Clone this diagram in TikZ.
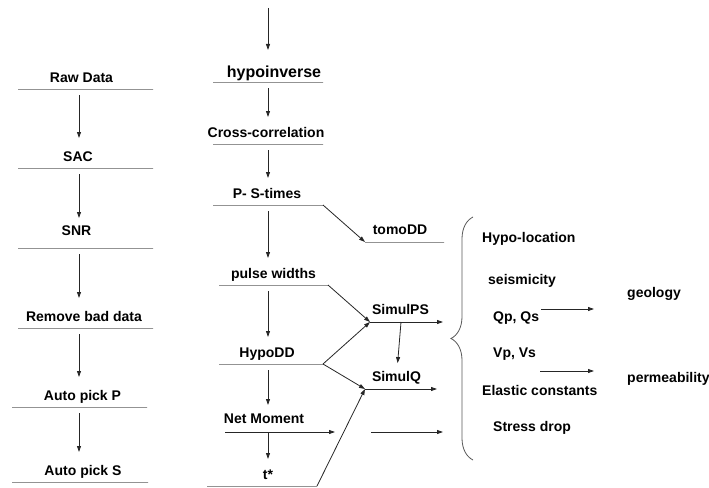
\documentclass[tikz,border=0pt]{standalone}
\usepackage{fontspec}
\setmainfont{Liberation Sans}
\usetikzlibrary{arrows.meta,decorations.pathreplacing}
\definecolor{linegray}{gray}{0.35}
\tikzset{
  bar/.style={draw=linegray, line width=0.8pt, minimum width=#1,
    minimum height=0pt, inner sep=0pt, outer sep=0pt},
  tag/.style={font=\fontsize{14}{16}\selectfont\bfseries, inner sep=0pt, text depth=0pt},
  arr/.style={draw=black!85, line width=0.8pt, -{Triangle[length=6pt,width=4pt]}},
  flow/.style={arr, shorten <=6pt, shorten >=#1},
  flow/.default=27pt,
  every label/.style={tag}
}
\begin{document}
\begin{tikzpicture}[x=1pt, y=-1pt, label distance=6pt]
\useasboundingbox (0,0) rectangle (709,487);
\coordinate (lx) at (79,0);
\coordinate (mx) at (268,0);
\coordinate (src) at (268,8);

% data preparation
\node[bar=135pt, label={[xshift=-4pt]above:Raw Data}] (raw) at (85.5,89) {};
\node[bar=135pt, label={[xshift=-7.5pt]above:SAC}] (sac) at (85.5,168) {};
\node[bar=135pt, label={[xshift=-9pt, label distance=12pt]above:SNR}] (snr) at (85.5,248) {};
\node[bar=135pt, label={[xshift=-1.5pt]above:Remove bad data}] (rem) at (85.5,328) {};
\node[bar=135pt, label={[xshift=3pt]above:Auto pick P}] (pickp) at (79.5,407) {};
\node[bar=136pt, label={[xshift=3pt]above:Auto pick S}] (picks) at (80,482) {};

\foreach \a/\b in {raw/sac,sac/snr,snr/rem,rem/pickp,pickp/picks}
  \draw[flow=30pt] (\a.south -| lx) -- (\b.north -| lx);

% location and picking
\node[bar=110pt, label={[font=\fontsize{16}{18}\selectfont\bfseries, xshift=6pt, label distance=4pt]above:hypoinverse}] (hyp) at (268,82) {};
\node[bar=110pt, label={[xshift=-2pt]above:Cross-correlation}] (cross) at (268,144) {};
\node[bar=110pt, label={[xshift=-1pt]above:P- S-times}] (pst) at (268,205) {};
\node[bar=109pt, label={above:pulse widths}] (pw) at (273.5,285) {};
\node[bar=104pt, label={[xshift=-4pt]above:HypoDD}] (hdd) at (271,364) {};
\node[bar=110pt, draw=none, label={[xshift=-16pt, label distance=8pt]above:Net Moment}] (nm) at (280,432) {};
\node[bar=110pt, label={[xshift=6pt]above:t*}] (tst) at (262,486) {};

\draw[flow, shorten <=0pt, shorten >=32pt] (src) -- (hyp.north -| src);
\foreach \a/\b in {hyp/cross,cross/pst,pst/pw,pw/hdd,hdd/nm}
  \draw[flow] (\a.south -| mx) -- (\b.north -| mx);
\draw[flow, shorten <=0pt] (nm.south -| mx) -- (tst.north -| mx);
\draw[arr] (nm.west) -- (nm.east);

% inversions
\node[bar=79pt, label={[xshift=-4.5pt, label distance=7pt]above:tomoDD}] (tomo) at (404.5,242) {};
\node[bar=73pt, draw=none, label={[xshift=-6pt, label distance=7pt]above:SimulPS}] (simps) at (406.5,322) {};
\node[bar=72pt, draw=none, label={[xshift=-4.5pt, label distance=7pt]above:SimulQ}] (simq) at (401,389) {};
\node[bar=72pt, draw=none] (sd) at (407,432) {};

\draw[arr] (pst.east) -- (tomo.west);
\draw[arr] (pw.east) -- (simps.west);
\draw[arr] (hdd.east) -- (simps.west);
\draw[arr] (hdd.east) -- (simq.west);
\draw[arr] (tst.east) -- (simq.west);
\draw[arr] (simps.west) -- (simps.east);
\draw[arr] (simq.west) -- (simq.east);
\draw[arr] (sd.west) -- (sd.east);
\draw[arr, shorten >=26pt] ([xshift=-5.5pt]simps.south) -- ([xshift=-5.5pt]simq.north);

% results
\draw[linegray, line width=0.8pt, decorate, decoration={brace, amplitude=22pt}]
  (473,460) -- (473,217);
\node[tag, anchor=west] (hloc) at (482,237) {Hypo-location};
\node[tag, anchor=west] (seis) at (488,279) {seismicity};
\node[tag, anchor=west] (qp) at (493,317) {Qp, Qs};
\node[tag, anchor=west] (vp) at (493,353) {Vp, Vs};
\node[tag, anchor=west] (elast) at (482,390) {Elastic constants};
\node[tag, anchor=west] (sdrop) at (493,426) {Stress drop};
\node[tag, anchor=west] (geo) at (627,292) {geology};
\node[tag, anchor=west] (perm) at (627,377) {permeability};

\draw[arr, shorten >=33pt] ([xshift=2pt, yshift=8pt]qp.east) -- ([yshift=8pt]qp.east -| geo.west);
\draw[arr, shorten >=33pt] ([xshift=4pt, yshift=-18pt]vp.east) -- ([yshift=-18pt]vp.east -| perm.west);
\end{tikzpicture}
\end{document}
